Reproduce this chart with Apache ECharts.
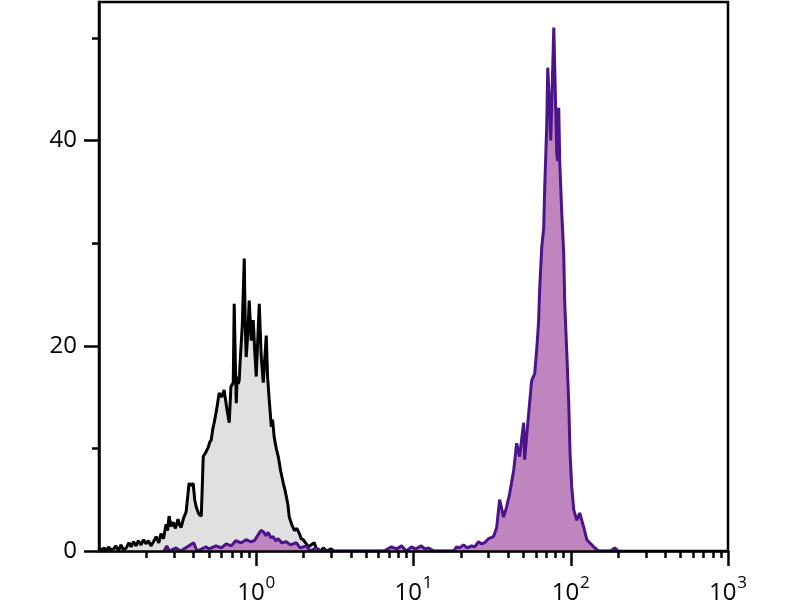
<!DOCTYPE html>
<html>
<head>
<meta charset="utf-8">
<script src="https://cdn.jsdelivr.net/npm/echarts@6/dist/echarts.min.js"></script>
<style>
html,body{margin:0;padding:0;background:#fff;}
#chart{width:800px;height:600px;}
</style>
</head>
<body>
<div id="chart"></div>
<script>
// Isotype control histogram: [fluorescence, count]
const isotypeData = [
[0.103,0.1],[0.108,0.3],[0.111,0],[0.115,0.4],[0.119,0.1],[0.124,0.2],[0.128,0.5],[0.133,0],[0.138,0.6],[0.143,0.1],
[0.149,0.3],[0.155,0.8],[0.160,0.4],[0.166,0.9],[0.172,0.5],[0.178,1.0],[0.185,0.6],[0.192,1.1],[0.199,0.7],[0.206,1.0],
[0.214,0.5],[0.222,0.9],[0.231,1.4],[0.240,0.8],[0.248,1.7],[0.257,1.2],[0.267,2.6],[0.273,2.0],[0.279,3.4],[0.287,2.4],
[0.296,2.8],[0.306,2.2],[0.318,3.1],[0.326,2.5],[0.333,2.3],[0.345,3.2],[0.358,3.8],[0.366,5.2],[0.374,6.6],[0.385,6.4],
[0.397,6.6],[0.406,5.0],[0.415,4.3],[0.431,3.6],[0.447,3.4],[0.453,6.0],[0.460,9.2],[0.477,9.6],[0.495,10.1],[0.506,10.6],
[0.517,10.8],[0.528,11.8],[0.540,12.5],[0.560,13.8],[0.581,15.4],[0.603,15.0],[0.625,15.7],[0.648,14.0],[0.673,12.5],[0.690,16.0],
[0.714,16.4],[0.724,24.1],[0.735,19.0],[0.746,14.4],[0.757,17.0],[0.768,16.3],[0.779,16.6],[0.791,18.6],[0.815,22.0],[0.839,28.5],
[0.851,22.0],[0.863,18.9],[0.882,21.0],[0.902,24.4],[0.930,20.5],[0.957,22.5],[0.978,19.5],[1.000,17.0],[1.045,24.1],[1.075,19.0],
[1.108,16.4],[1.130,18.5],[1.158,21.0],[1.180,17.0],[1.210,14.7],[1.247,12.1],[1.270,12.8],[1.300,11.1],[1.340,10.0],[1.380,9.2],
[1.430,7.8],[1.486,6.6],[1.520,6.0],[1.553,5.3],[1.590,4.5],[1.622,3.3],[1.680,2.6],[1.746,2.0],[1.810,2.2],[1.880,1.7],
[1.930,1.2],[1.990,1.1],[2.060,0.8],[2.140,0.4],[2.240,0.6],[2.340,0.8],[2.410,0.2],[2.480,0.3],[2.570,0],[2.670,0.3],
[2.800,0],[3.000,0.2],[3.100,0]
];
// Stained sample histogram: [fluorescence, count]
const stainedData = [
[0.259,0],[0.270,0.5],[0.280,0],[0.309,0.3],[0.330,0],[0.400,0.8],[0.420,0],[0.480,0.4],[0.500,0.2],[0.556,0.5],
[0.600,0.3],[0.644,0.7],[0.693,0.5],[0.740,1.0],[0.802,0.8],[0.863,1.1],[0.920,0.9],[0.971,1.0],[1.030,1.6],[1.070,2.0],
[1.108,1.9],[1.150,1.5],[1.190,1.8],[1.240,1.3],[1.280,1.4],[1.330,1.0],[1.380,1.2],[1.450,0.8],[1.553,0.9],[1.650,0.6],
[1.800,0.8],[1.900,0.3],[2.080,0.5],[2.200,0],[2.410,0.3],[2.600,0],[6.500,0],[7.240,0.4],[7.800,0.2],[8.390,0.5],
[9.000,0],[9.710,0.4],[10.30,0.2],[11.20,0.5],[11.80,0.2],[12.50,0.3],[13.50,0],[18.00,0],[18.80,0.4],[19.60,0.3],
[20.80,0.6],[22.00,0.3],[23.40,0.5],[24.50,0.4],[25.90,0.9],[27.00,0.7],[28.30,0.8],[30.00,1.2],[32.30,1.4],[33.80,2.3],
[35.30,5.0],[37.40,3.3],[39.10,4.3],[40.90,5.6],[43.40,7.9],[45.30,10.5],[47.30,9.2],[48.80,11.0],[50.20,12.5],[50.90,8.9],
[54.00,13.4],[56.40,16.6],[59.00,17.3],[60.70,19.6],[61.50,20.8],[62.50,22.5],[63.50,25.7],[65.40,29.6],[67.30,31.5],[68.30,35.4],
[70.30,41.3],[71.40,47.1],[73.00,44.0],[74.60,40.0],[75.70,43.6],[78.00,51.0],[80.00,44.0],[81.50,38.7],[82.60,38.0],[83.90,43.2],
[85.10,38.0],[87.70,32.9],[90.20,29.0],[91.60,24.1],[94.40,19.3],[97.10,14.4],[99.00,9.5],[101.5,6.2],[104.5,4.0],[109.2,3.0],
[114.0,3.7],[121.0,2.3],[126.5,1.1],[132.0,0.8],[140.0,0.4],[150.0,0],[180.0,0],[190.5,0.3],[200.0,0]
];
const xMajorTicks = [1, 10, 100, 1000];
const xTickExponents = ['0', '1', '2', '3'];
const xMinorTicks = [0.2,0.3,0.4,0.5,0.6,0.7,0.8,0.9, 2,3,4,5,6,7,8,9, 20,30,40,50,60,70,80,90, 200,300,400,500,600,700,800,900];
const yMajorTicks = [0, 20, 40];
const yMinorTicks = [10, 30, 50];

const chart = echarts.init(document.getElementById('chart'), null, {renderer: 'canvas'});
const font = '"Open Sans", "Noto Sans", sans-serif';
chart.setOption({
  animation: false,
  backgroundColor: '#fff',
  grid: {
    left: 99, right: 72, top: 2, bottom: 49,
    containLabel: false,
    outerBoundsMode: 'none',
    show: true, borderColor: '#000', borderWidth: 2.5, backgroundColor: 'transparent'
  },
  xAxis: [{
    type: 'log', logBase: 10, min: 0.1, max: 1000, z: 10,
    axisLine: {show: true, onZero: false, lineStyle: {color: '#000', width: 2.5}},
    axisTick: {show: true, length: 15, customValues: xMajorTicks, lineStyle: {color: '#000', width: 2.5}},
    splitLine: {show: false}, minorTick: {show: false},
    axisLabel: {
      show: true, margin: 24, customValues: xMajorTicks,
      formatter: function (v) {
        const i = xMajorTicks.indexOf(v);
        const e = i >= 0 ? xTickExponents[i] : String(Math.round(Math.log10(v)));
        return '{b|10}{s|' + e + '}';
      },
      rich: {
        b: {fontSize: 24, fontFamily: font, color: '#000', lineHeight: 30, verticalAlign: 'bottom'},
        s: {fontSize: 17, fontFamily: font, color: '#000', lineHeight: 18, verticalAlign: 'top', padding: [0, 0, 12, 1]}
      }
    }
  }, {
    type: 'log', logBase: 10, min: 0.1, max: 1000, position: 'bottom', z: 10,
    axisLine: {show: false},
    axisTick: {show: true, length: 7, customValues: xMinorTicks, lineStyle: {color: '#000', width: 2.5}},
    axisLabel: {show: false}, splitLine: {show: false}
  }],
  yAxis: [{
    type: 'value', min: 0, max: 53.5, z: 10,
    axisLine: {show: true, lineStyle: {color: '#000', width: 2.5}},
    axisTick: {show: true, length: 15, customValues: yMajorTicks, lineStyle: {color: '#000', width: 2.5}},
    axisLabel: {show: true, customValues: yMajorTicks, margin: 22, fontSize: 24, fontFamily: font, color: '#000'},
    splitLine: {show: false}
  }, {
    type: 'value', min: 0, max: 53.5, position: 'left', z: 10,
    axisLine: {show: false},
    axisTick: {show: true, length: 7, customValues: yMinorTicks, lineStyle: {color: '#000', width: 2.5}},
    axisLabel: {show: false}, splitLine: {show: false}
  }],
  series: [{
    name: 'Isotype', type: 'line', data: isotypeData, showSymbol: false, symbol: 'none',
    xAxisIndex: 0, yAxisIndex: 0,
    lineStyle: {color: '#000', width: 3},
    areaStyle: {color: '#e0e0e0', opacity: 1},
    z: 2
  }, {
    name: 'Stained', type: 'line', data: stainedData, showSymbol: false, symbol: 'none',
    xAxisIndex: 0, yAxisIndex: 0,
    lineStyle: {color: '#4b148a', width: 3},
    areaStyle: {color: '#bf85bf', opacity: 1},
    z: 3
  }]
});
</script>
</body>
</html>
